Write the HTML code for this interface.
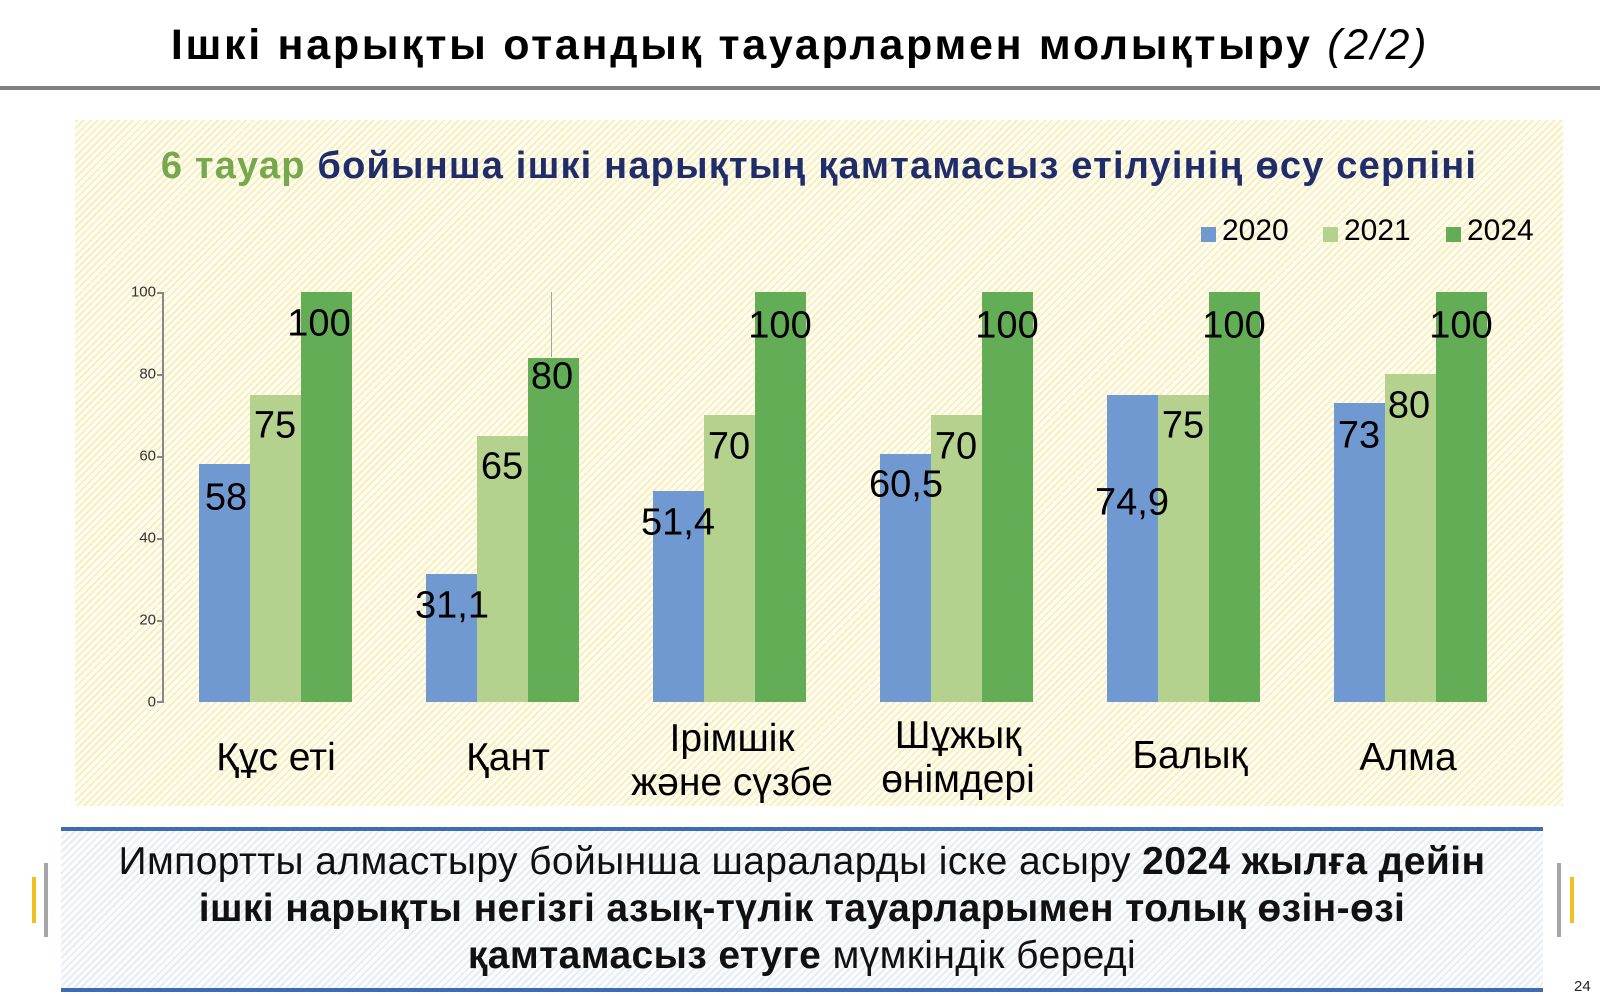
<!DOCTYPE html>
<html><head><meta charset="utf-8"><style>
*{margin:0;padding:0;box-sizing:border-box}
body{width:1600px;height:1000px;position:relative;background:#fff;font-family:"Liberation Sans",Arial,sans-serif;overflow:hidden}
.a{position:absolute}
.chartbg{left:75px;top:120px;width:1488px;height:686px;background:repeating-linear-gradient(-45deg,#f8efc0 0 2px,#fffdf3 2px 5px)}
.boxbg{left:61px;top:829px;width:1482px;height:162px;background:repeating-linear-gradient(-45deg,#e8edf3 0 2px,#fbfcfe 2px 5px)}
.bar{position:absolute;bottom:298px;width:51px}
.b{background:#7099d1}.l{background:#b5d18e}.g{background:#62ad55}
.lab{position:absolute;font-size:38px;color:#000;transform:translate(-50%,-50%);white-space:nowrap}
.cat{position:absolute;font-size:39px;color:#000;transform:translate(-50%,-50%);text-align:center;white-space:nowrap;line-height:44px}
.tick{position:absolute;left:116px;width:40px;text-align:right;font-size:15px;color:#333;transform:translateY(-50%)}
.tm{position:absolute;left:157px;width:6px;height:2px;background:#888}
</style></head><body>
<div class="a" style="left:0;top:21px;width:1600px;text-align:center;font-size:43px;font-weight:bold;letter-spacing:2.7px">Ішкі нарықты отандық тауарлармен молықтыру <span style="font-weight:normal;font-style:italic">(2/2)</span></div>
<div class="a" style="left:0;top:86px;width:1600px;height:4px;background:#7f7f7f"></div>
<div class="a chartbg"></div>
<div class="a" style="left:75px;top:145px;width:1488px;text-align:center;font-size:38px;font-weight:bold;color:#1f2d6b;letter-spacing:1.2px"><span style="color:#76a84e">6 тауар</span> бойынша ішкі нарықтың қамтамасыз етілуінің өсу серпіні</div>
<!-- legend -->
<div class="a" style="left:1201px;top:227px;width:15px;height:15px;background:#7099d1"></div>
<div class="a" style="left:1222px;top:214px;font-size:30px">2020</div>
<div class="a" style="left:1323px;top:227px;width:15px;height:15px;background:#b5d18e"></div>
<div class="a" style="left:1344px;top:214px;font-size:30px">2021</div>
<div class="a" style="left:1446px;top:227px;width:15px;height:15px;background:#62ad55"></div>
<div class="a" style="left:1467px;top:214px;font-size:30px">2024</div>
<!-- axis -->
<div class="a" style="left:162px;top:292px;width:2px;height:411px;background:#888"></div>
<div class="tm" style="top:292px"></div><div class="tm" style="top:374px"></div><div class="tm" style="top:456px"></div><div class="tm" style="top:538px"></div><div class="tm" style="top:620px"></div><div class="tm" style="top:701px"></div>
<div class="tick" style="top:292px">100</div><div class="tick" style="top:374px">80</div><div class="tick" style="top:456px">60</div><div class="tick" style="top:538px">40</div><div class="tick" style="top:620px">20</div><div class="tick" style="top:702px">0</div>
<div class="a" style="left:551px;top:292px;width:1px;height:65px;background:#9a9"></div>
<!-- bars -->
<div class="bar b" style="left:199px;height:238px"></div><div class="bar l" style="left:250px;height:307px"></div><div class="bar g" style="left:301px;height:410px"></div>
<div class="bar b" style="left:426px;height:128px"></div><div class="bar l" style="left:477px;height:266px"></div><div class="bar g" style="left:528px;height:344px"></div>
<div class="bar b" style="left:653px;height:211px"></div><div class="bar l" style="left:704px;height:287px"></div><div class="bar g" style="left:755px;height:410px"></div>
<div class="bar b" style="left:880px;height:248px"></div><div class="bar l" style="left:931px;height:287px"></div><div class="bar g" style="left:982px;height:410px"></div>
<div class="bar b" style="left:1107px;height:307px"></div><div class="bar l" style="left:1158px;height:307px"></div><div class="bar g" style="left:1209px;height:410px"></div>
<div class="bar b" style="left:1334px;height:299px"></div><div class="bar l" style="left:1385px;height:328px"></div><div class="bar g" style="left:1436px;height:410px"></div>
<!-- labels -->
<div class="lab" style="left:226px;top:498px">58</div><div class="lab" style="left:275px;top:426px">75</div><div class="lab" style="left:319px;top:324px">100</div>
<div class="lab" style="left:452px;top:606px">31,1</div><div class="lab" style="left:502px;top:467px">65</div><div class="lab" style="left:552px;top:377px">80</div>
<div class="lab" style="left:678px;top:523px">51,4</div><div class="lab" style="left:729px;top:447px">70</div><div class="lab" style="left:780px;top:326px">100</div>
<div class="lab" style="left:906px;top:485px">60,5</div><div class="lab" style="left:956px;top:447px">70</div><div class="lab" style="left:1007px;top:326px">100</div>
<div class="lab" style="left:1132px;top:503px">74,9</div><div class="lab" style="left:1183px;top:426px">75</div><div class="lab" style="left:1234px;top:326px">100</div>
<div class="lab" style="left:1359px;top:436px">73</div><div class="lab" style="left:1409px;top:406px">80</div><div class="lab" style="left:1461px;top:326px">100</div>
<!-- categories -->
<div class="cat" style="left:276px;top:758px">Құс еті</div>
<div class="cat" style="left:508px;top:758px">Қант</div>
<div class="cat" style="left:732px;top:761px">Ірімшік<br>және сүзбе</div>
<div class="cat" style="left:958px;top:758px">Шұжық<br>өнімдері</div>
<div class="cat" style="left:1190px;top:756px">Балық</div>
<div class="cat" style="left:1408px;top:758px">Алма</div>
<!-- bottom box -->
<div class="a boxbg"></div>
<div class="a" style="left:61px;top:827px;width:1482px;height:4px;background:#3c6db4"></div>
<div class="a" style="left:61px;top:988px;width:1482px;height:4px;background:#3c6db4"></div>
<div class="a" style="left:61px;top:838px;width:1482px;text-align:center;font-size:39px;line-height:47px;color:#111;letter-spacing:0.4px">Импортты алмастыру бойынша шараларды іске асыру <b>2024 жылға дейін<br>ішкі нарықты негізгі азық-түлік тауарларымен толық өзін-өзі<br>қамтамасыз етуге</b> мүмкіндік береді</div>
<div class="a" style="left:32px;top:877px;width:4px;height:46px;background:#f0c020"></div>
<div class="a" style="left:44px;top:863px;width:4px;height:74px;background:#a6a6a6"></div>
<div class="a" style="left:1557px;top:863px;width:4px;height:74px;background:#a6a6a6"></div>
<div class="a" style="left:1570px;top:877px;width:4px;height:46px;background:#f0c020"></div>
<div class="a" style="left:1574px;top:978px;font-size:15px;color:#222">24</div>
</body></html>
